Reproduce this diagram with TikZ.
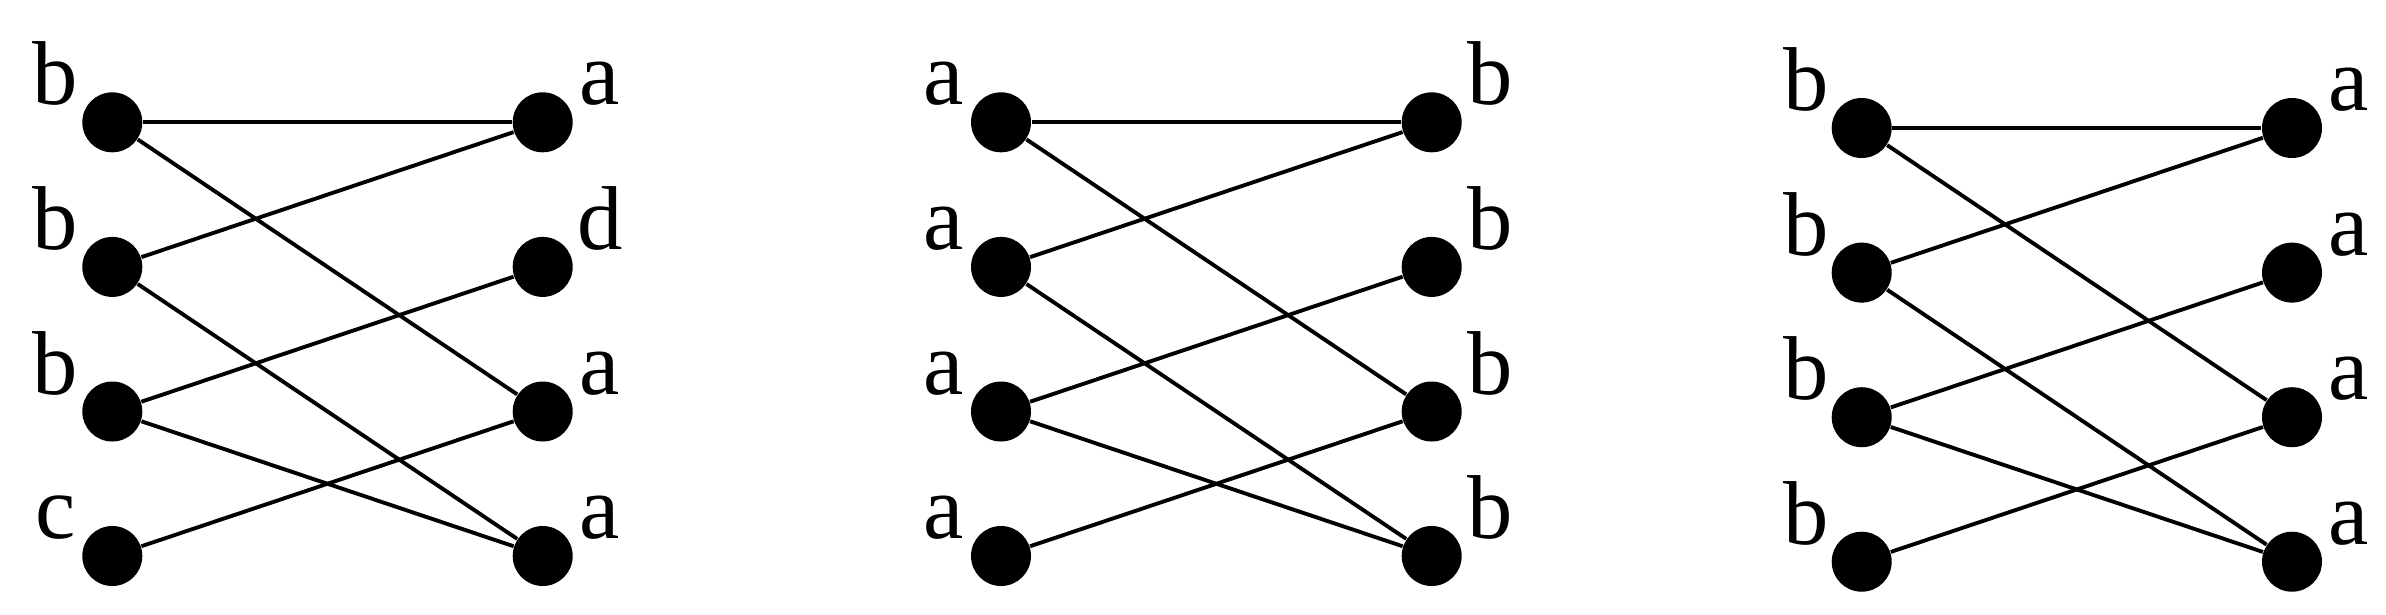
\documentclass[tikz,border=0pt]{standalone}
\usepackage{fontspec}
\setmainfont{Liberation Serif}
\tikzset{
  vtx/.style={circle, fill=black, inner sep=0pt, minimum size=6mm},
  edge/.style={line width=1.1pt},
  lbl/.style={anchor=base, inner sep=0pt, font=\fontsize{25.8}{30}\selectfont},
}

\begin{document}
\begin{tikzpicture}
\useasboundingbox (0,0) rectangle (23.86,-6.14);
% first graph
\foreach \i/\y/\tl/\tr in {1/1.223/b/a, 2/2.669/b/d, 3/4.115/b/a, 4/5.560/c/a} {
  \node[vtx] (g1u\i) at (1.123,-\y) {};
  \node[vtx] (g1v\i) at (5.427,-\y) {};
  \node[lbl] (g1s\i) at ([shift={(-0.57,0.175)}]g1u\i.center) {\tl};
  \node[lbl] (g1t\i) at ([shift={(0.57,0.175)}]g1v\i.center) {\tr};
}
\foreach \s/\t in {1/1, 1/3, 2/1, 2/4, 3/2, 3/4, 4/3}
  \draw[edge] (g1u\s) -- (g1v\t);
% second graph
\foreach \i/\y in {1/1.223, 2/2.669, 3/4.115, 4/5.560} {
  \node[vtx] (g2u\i) at (10.01,-\y) {};
  \node[vtx] (g2v\i) at (14.317,-\y) {};
  \node[lbl] (g2s\i) at ([shift={(-0.57,0.175)}]g2u\i.center) {a};
  \node[lbl] (g2t\i) at ([shift={(0.58,0.175)}]g2v\i.center) {b};
}
\foreach \s/\t in {1/1, 1/3, 2/1, 2/4, 3/2, 3/4, 4/3}
  \draw[edge] (g2u\s) -- (g2v\t);
% third graph
\foreach \i/\y in {1/1.280, 2/2.726, 3/4.172, 4/5.617} {
  \node[vtx] (g3u\i) at (18.617,-\y) {};
  \node[vtx] (g3v\i) at (22.92,-\y) {};
  \node[lbl] (g3s\i) at ([shift={(-0.56,0.175)}]g3u\i.center) {b};
  \node[lbl] (g3t\i) at ([shift={(0.565,0.175)}]g3v\i.center) {a};
}
\foreach \s/\t in {1/1, 1/3, 2/1, 2/4, 3/2, 3/4, 4/3}
  \draw[edge] (g3u\s) -- (g3v\t);
\end{tikzpicture}
\end{document}
